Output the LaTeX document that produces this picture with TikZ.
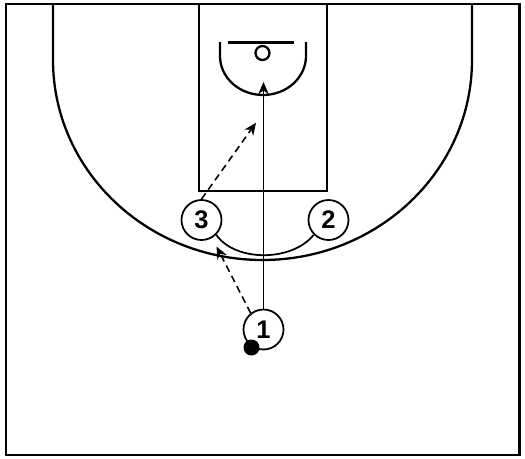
\documentclass[tikz,border=0pt]{standalone}
\usepackage{fontspec}
\newfontfamily\playerfont{Liberation Sans}
\usetikzlibrary{arrows.meta}
\tikzset{
    court/.style={line width=1.3pt},
    player/.style={circle, draw, line width=1pt, fill=white, minimum size=0.8cm, inner sep=0pt,
        font=\playerfont\bfseries\fontsize{14.5}{16}\selectfont},
    ball/.style={circle, fill=black, minimum size=0.32cm, inner sep=0pt},
    drivearrow/.style={line width=0.9pt, -{Stealth[length=7pt,width=6pt]}},
    passarrow/.style={line width=0.9pt, dash pattern=on 4pt off 2.6pt, -{Stealth[length=7pt,width=6pt]}},
    screenline/.style={line width=1pt}
}

\begin{document}
\begin{tikzpicture}[x=0.02cm, y=0.02cm]
    \useasboundingbox (0,0) rectangle (525,458);

    % Court outline
    \draw[court] (6,3) rectangle (519.5,454);

    % Three point line
    \draw[court] (53,454) -- (53,398) arc[start angle=180, end angle=360, x radius=209.5, y radius=200] -- (472,454);

    % Lane
    \draw[court] (199,267) rectangle (327,454);

    % Backboard, hoop and restricted area
    \draw[court] (228,415.5) -- (294,415.5);
    \draw[court] (262.5,405) circle (7);
    \draw[court] (220,416) -- (220,402) arc[start angle=180, end angle=360, x radius=43, y radius=39] -- (306,416);

    % Players
    \foreach \n/\x/\y in {3/201.5/238, 2/328.5/238, 1/263.5/128.5} {
        \node[player] (p\n) at (\x, \y) {\n};
    }
    \node[ball] (ball) at (251.5,110.5) {};

    % Drive, passes and screen
    \coordinate (rim) at (263.5,376);
    \coordinate (wing) at (216.5,211.5);
    \coordinate (post) at (256,335.3);
    \draw[drivearrow] (p1.north) -- (rim);
    \draw[passarrow] (p1.128) -- (wing);
    \draw[passarrow] (p3.north) -- (post);
    \draw[screenline] (p3.-45) .. controls (235,196) and (292,196) .. (p2.-135);

\end{tikzpicture}
\end{document}
